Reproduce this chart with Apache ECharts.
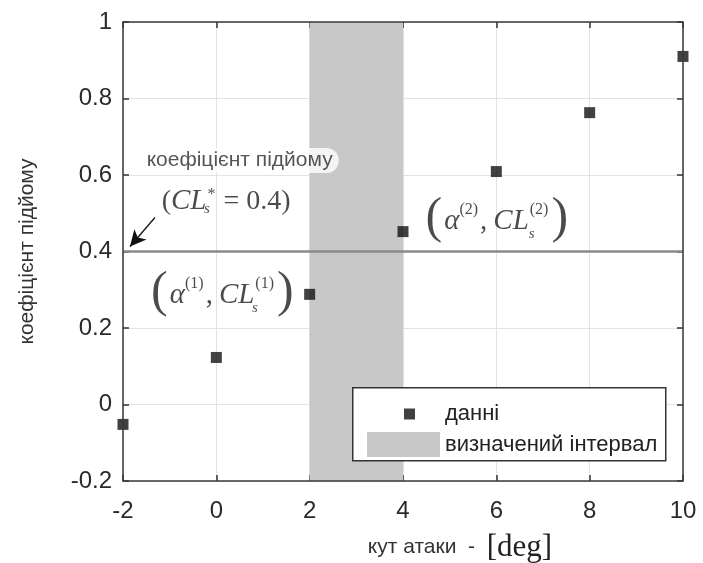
<!DOCTYPE html>
<html>
<head>
<meta charset="utf-8">
<script src="https://cdn.jsdelivr.net/npm/echarts@6/dist/echarts.min.js"></script>
<style>
html,body{margin:0;padding:0;background:#fff;}
#chart{width:703px;height:563px;}
</style>
</head>
<body>
<div id="chart"></div>
<script>
// ---- data ----
const angles = [-2, 0, 2, 4, 6, 8, 10];
const liftCoef = [-0.052, 0.123, 0.288, 0.452, 0.609, 0.763, 0.910];
const xTicks = [-2, 0, 2, 4, 6, 8, 10];
const yTicks = [-0.2, 0, 0.2, 0.4, 0.6, 0.8, 1];
const intervalBand = [2, 4];
const targetCL = [0.4];
const seriesNames = ['данні', 'визначений інтервал'];

const chart = echarts.init(document.getElementById('chart'), null, {renderer: 'canvas'});

const pts = angles.map((a, i) => [a, liftCoef[i]]);
const xMin = xTicks[0], xMax = xTicks[xTicks.length - 1];
const yMin = yTicks[0], yMax = yTicks[yTicks.length - 1];

const serif = 'Liberation Serif';
const ink = '#1e1e1e';
const mathRich = {
  p: {fontFamily: serif, fontSize: 50, lineHeight: 40, color: ink, padding: [0, 2, 6, 2]},
  q: {fontFamily: serif, fontSize: 28, lineHeight: 30, color: ink},
  a: {fontFamily: serif, fontStyle: 'italic', fontSize: 29, lineHeight: 30, color: ink},
  n: {fontFamily: serif, fontSize: 28, lineHeight: 30, color: ink},
  c: {fontFamily: serif, fontSize: 29, lineHeight: 30, color: ink, padding: [0, 6, 0, 1]},
  sup: {fontFamily: serif, fontSize: 16, lineHeight: 16, color: ink, verticalAlign: 'top', padding: [0, 1, 0, 0]},
  sub: {fontFamily: serif, fontStyle: 'italic', fontSize: 15, lineHeight: 16, color: ink, verticalAlign: 'bottom', width: 1, align: 'left'},
  t: {fontFamily: 'Liberation Sans', fontSize: 21, color: '#2a2a2a', backgroundColor: '#fff', borderRadius: 12, padding: [2, 6, 2, 6]}
};

const annotations = [
  {value: [0.50, 0.638], text: '{t|коефіцієнт підйому}', align: 'center'},
  {value: [0.21, 0.531], text: '{q|(}{a|CL}{sub|s}{sup|*}{n| = 0.4)}', align: 'center'},
  {value: [1.70, 0.285], text: '{p|(}{a|α}{sup|(1)}{c|,}{a|CL}{sub|s}{sup|(1)}{p|)}', align: 'right'},
  {value: [4.44, 0.478], text: '{p|(}{a|α}{sup|(2)}{c|,}{a|CL}{sub|s}{sup|(2)}{p|)}', align: 'left'}
];
const arrowFrom = [-1.315, 0.489];
const arrowTo = [-1.85, 0.413];

const tickFont = {fontFamily: 'Liberation Sans', fontSize: 24, color: '#2a2a2a'};
const tickStyle = {inside: true, length: 6, lineStyle: {color: '#333', width: 1.5}};

const option = {
  animation: false,
  backgroundColor: '#fff',
  grid: {left: 123, right: 20, top: 22, bottom: 82, outerBoundsMode: 'none', containLabel: false,
    show: true, borderColor: '#3a3a3a', borderWidth: 1.5, backgroundColor: 'transparent', z: 10},
  xAxis: [{
    type: 'value', min: xMin, max: xMax, interval: 2,
    axisLine: {show: false, onZero: false},
    axisTick: tickStyle,
    axisLabel: Object.assign({margin: 18}, tickFont),
    splitLine: {show: true, lineStyle: {color: '#e3e3e3', width: 1}},
    name: '{s|кут атаки}{s|  -  }{d|[deg]}',
    nameLocation: 'middle', nameGap: 51,
    nameTextStyle: {
      padding: [0, 0, 0, 114],
      rich: {
        s: {fontFamily: 'Liberation Sans', fontSize: 21, color: '#333'},
        d: {fontFamily: serif, fontSize: 31, color: '#222'}
      }
    }
  }, {
    type: 'value', position: 'top', min: xMin, max: xMax, interval: 2,
    axisLine: {show: false, onZero: false}, axisLabel: {show: false}, splitLine: {show: false},
    axisTick: tickStyle
  }],
  yAxis: [{
    type: 'value', min: yMin, max: yMax, interval: 0.2,
    axisLine: {show: false, onZero: false},
    axisTick: tickStyle,
    axisLabel: Object.assign({margin: 11, formatter: v => String(+v.toFixed(1))}, tickFont),
    splitLine: {show: true, lineStyle: {color: '#e3e3e3', width: 1}},
    name: 'коефіцієнт підйому',
    nameLocation: 'middle', nameGap: 85, nameRotate: 90,
    nameTextStyle: {fontFamily: 'Liberation Sans', fontSize: 21, color: '#333'}
  }, {
    type: 'value', position: 'right', min: yMin, max: yMax, interval: 0.2,
    axisLine: {show: false, onZero: false}, axisLabel: {show: false}, splitLine: {show: false},
    axisTick: tickStyle
  }],
  legend: [{
    data: [{name: seriesNames[0], icon: 'rect'}],
    left: 399, top: 398, itemWidth: 11, itemHeight: 11, z: 20,
    selectedMode: false,
    textStyle: {fontFamily: 'Liberation Sans', fontSize: 22, color: '#222', padding: [0, 0, 0, 25]}
  }, {
    data: [{name: seriesNames[1], icon: 'rect'}],
    left: 362, top: 427, itemWidth: 73, itemHeight: 25, z: 20,
    selectedMode: false,
    textStyle: {fontFamily: 'Liberation Sans', fontSize: 22, color: '#222'}
  }],
  graphic: [{
    type: 'rect', left: 352, top: 387, z: 15,
    shape: {width: 313, height: 73},
    style: {fill: '#fff', stroke: '#333', lineWidth: 1.5}
  }],
  series: [{
    name: seriesNames[1],
    type: 'line', data: [], color: '#c8c8c8',
    markArea: {
      silent: true,
      itemStyle: {color: '#c8c8c8', opacity: 1},
      data: [[{xAxis: intervalBand[0]}, {xAxis: intervalBand[1]}]]
    },
    z: 1
  }, {
    name: 'target',
    type: 'line', symbol: 'none', silent: true,
    data: [[xMin, targetCL[0]], [xMax, targetCL[0]]],
    lineStyle: {color: '#8a8a8a', width: 2.5},
    z: 3
  }, {
    name: seriesNames[0],
    type: 'scatter', symbol: 'rect', symbolSize: 11,
    color: '#111',
    itemStyle: {color: '#111'},
    data: pts, z: 5
  }, {
    name: 'annot',
    type: 'scatter', symbolSize: 0, silent: true, z: 6,
    data: annotations.map(a => ({
      value: a.value,
      label: {
        show: true, position: 'inside', formatter: a.text,
        align: a.align, verticalAlign: 'middle', rich: mathRich
      }
    })),
    markLine: {
      silent: true,
      symbol: ['none', 'arrow'], symbolSize: [12, 16],
      lineStyle: {color: '#111', width: 1.3, type: 'solid'},
      label: {show: false},
      data: [[{coord: arrowFrom}, {coord: arrowTo}]]
    }
  }]
};
chart.setOption(option);
</script>
</body>
</html>
